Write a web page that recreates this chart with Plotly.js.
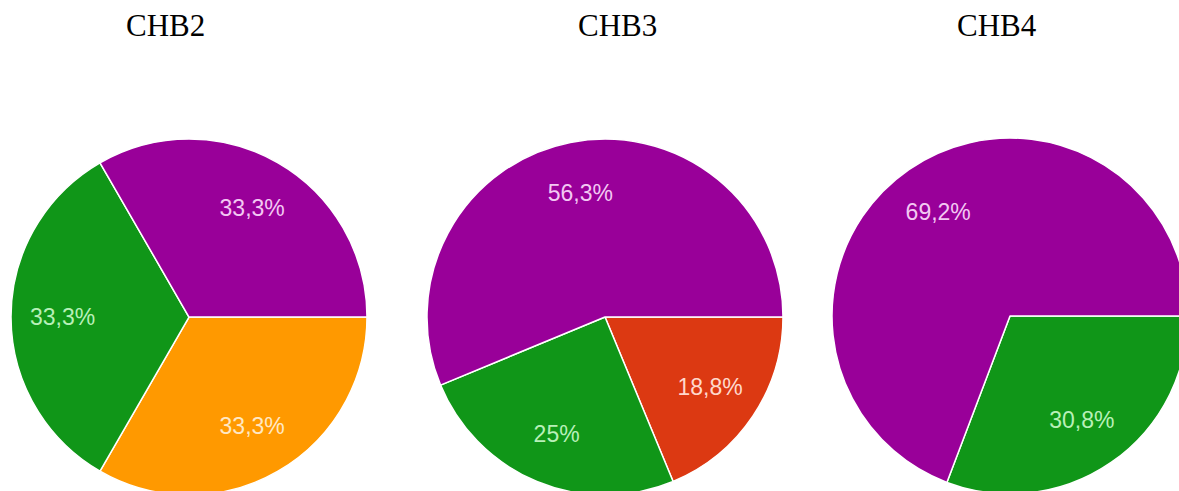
<!DOCTYPE html>
<html>
<head>
<meta charset="utf-8">
<script src="https://cdn.plot.ly/plotly-3.0.1.min.js"></script>
<style>
  html, body { margin: 0; padding: 0; background: #ffffff; overflow: hidden; }
  #chart { width: 1200px; height: 520px; }
</style>
</head>
<body>
<div id="chart"></div>
<script>
// ---- data ----
const chartTitles = ['CHB2', 'CHB3', 'CHB4'];

const chb2Labels = ['Orange', 'Green', 'Purple'];
const chb2Values = [1, 1, 1];

const chb3Labels = ['Red', 'Green', 'Purple'];
const chb3Values = [3, 4, 9];

const chb4Labels = ['Green', 'Purple'];
const chb4Values = [4, 9];

// ---- styling ----
const colorMap = {
  Purple: '#990099',
  Green: '#109618',
  Orange: '#ff9900',
  Red: '#dc3912'
};
const textColorMap = {
  Purple: '#f3c8f3',
  Green: '#b8f0b8',
  Orange: '#ffe8c4',
  Red: '#ffd8cc'
};

const W = 1200, H = 520;
const R = 178;
const centers = [[189, 317], [605, 317], [1010, 316]];
const titleX = [165, 617, 997];

function dom(i) {
  const [cx, cy] = centers[i];
  const yb = H - cy;
  return {
    x: [(cx - R) / W, (cx + R) / W],
    y: [(yb - R) / H, (yb + R) / H]
  };
}

// filled pie (no text)
function pieTrace(labels, values, i) {
  return {
    type: 'pie',
    labels: labels,
    values: values,
    sort: false,
    direction: 'clockwise',
    rotation: 90,
    domain: dom(i),
    marker: {
      colors: labels.map(l => colorMap[l]),
      line: { color: '#ffffff', width: 1.5 }
    },
    textinfo: 'none',
    hoverinfo: 'label+percent',
    showlegend: false
  };
}

// transparent ring on top that carries the percentage labels,
// so they sit at ~0.7 of the radius like the original
function labelTrace(labels, values, i) {
  return {
    type: 'pie',
    labels: labels,
    values: values,
    sort: false,
    direction: 'clockwise',
    rotation: 90,
    hole: 0.42,
    domain: dom(i),
    marker: {
      colors: labels.map(() => 'rgba(0,0,0,0)'),
      line: { color: 'rgba(0,0,0,0)', width: 0 }
    },
    textinfo: 'percent',
    textposition: 'inside',
    insidetextorientation: 'horizontal',
    textfont: {
      family: 'Liberation Sans, Arial, sans-serif',
      size: 23,
      color: labels.map(l => textColorMap[l])
    },
    hoverinfo: 'skip',
    showlegend: false
  };
}

const data = [
  pieTrace(chb2Labels, chb2Values, 0),
  pieTrace(chb3Labels, chb3Values, 1),
  pieTrace(chb4Labels, chb4Values, 2),
  labelTrace(chb2Labels, chb2Values, 0),
  labelTrace(chb3Labels, chb3Values, 1),
  labelTrace(chb4Labels, chb4Values, 2)
];

const layout = {
  width: W,
  height: H,
  margin: { l: 0, r: 0, t: 0, b: 0 },
  paper_bgcolor: '#ffffff',
  separators: ',.',
  showlegend: false,
  annotations: chartTitles.map((t, i) => ({
    text: t,
    xref: 'paper', yref: 'paper',
    x: titleX[i] / W,
    y: (H - 25) / H,
    xanchor: 'center', yanchor: 'middle',
    showarrow: false,
    font: { family: 'Liberation Serif, Times New Roman, serif', size: 31, color: '#000000' }
  }))
};

Plotly.newPlot('chart', data, layout, { displayModeBar: false, staticPlot: true });
</script>
</body>
</html>
